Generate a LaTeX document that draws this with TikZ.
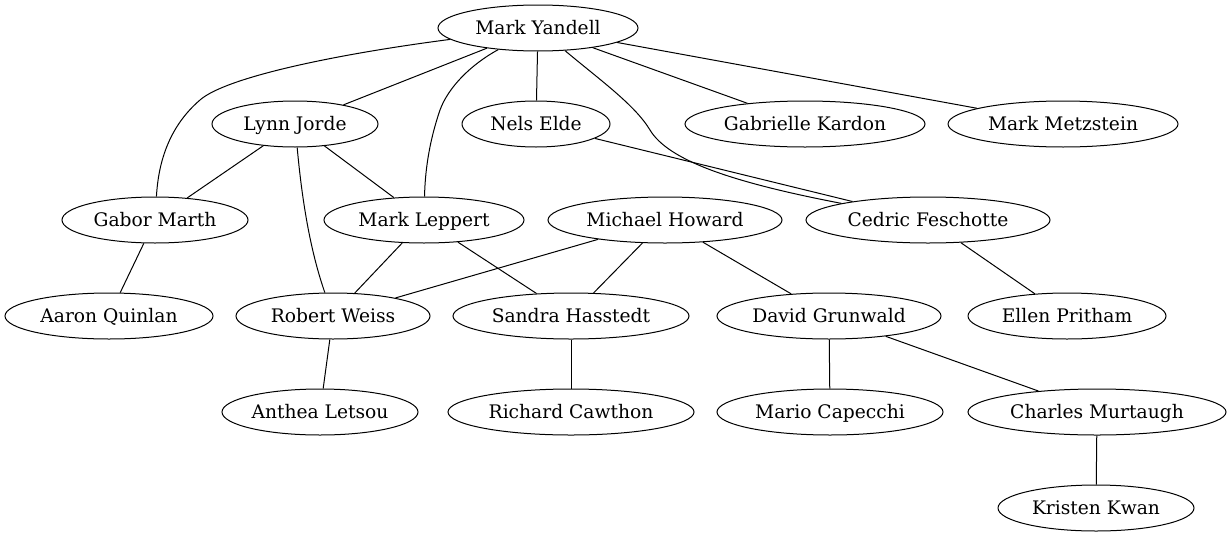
\documentclass[tikz,border=0pt]{standalone}
\usepackage{fontspec}
\setmainfont{DejaVu Serif}
\usetikzlibrary{shapes.geometric}
\begin{document}
\begin{tikzpicture}[x=0.75pt,y=-0.75pt,
  person/.style={draw,ellipse,line width=0.75pt,inner sep=0pt,minimum height=34.5pt,text height=12pt,text depth=2.6pt,font=\fontsize{14pt}{16pt}\selectfont},
  link/.style={line width=0.75pt}]
\useasboundingbox (0,0) rectangle (1230,539);
\node[person,minimum width=150pt] (my) at (538,28) {Mark Yandell};
\node[person,minimum width=124.5pt] (lj) at (295,124) {Lynn Jorde};
\node[person,minimum width=111pt] (ne) at (536,124) {Nels Elde};
\node[person,minimum width=180pt] (gk) at (805,124) {Gabrielle Kardon};
\node[person,minimum width=172.5pt] (mm) at (1063,124) {Mark Metzstein};
\node[person,minimum width=139.5pt] (gm) at (155,220) {Gabor Marth};
\node[person,minimum width=150pt] (ml) at (424,220) {Mark Leppert};
\node[person,minimum width=175.5pt] (mh) at (665,220) {Michael Howard};
\node[person,minimum width=183pt] (cf) at (928,220) {Cedric Feschotte};
\node[person,minimum width=156pt] (aq) at (109,316) {Aaron Quinlan};
\node[person,minimum width=145.5pt] (rw) at (333,316) {Robert Weiss};
\node[person,minimum width=177pt] (sh) at (571,316) {Sandra Hasstedt};
\node[person,minimum width=168pt] (dg) at (829,316) {David Grunwald};
\node[person,minimum width=148.5pt] (ep) at (1067,316) {Ellen Pritham};
\node[person,minimum width=147pt] (al) at (320,412) {Anthea Letsou};
\node[person,minimum width=184.5pt] (rc) at (571,412) {Richard Cawthon};
\node[person,minimum width=169.5pt] (mc) at (830,412) {Mario Capecchi};
\node[person,minimum width=193.5pt] (cm) at (1097,412) {Charles Murtaugh};
\node[person,minimum width=147pt] (kk) at (1096,508) {Kristen Kwan};

\draw[link] (my) .. controls (330,55) and (225,78) .. (200,100) .. controls (165,130) and (158,170) .. (gm);
\draw[link] (my) -- (lj);
\draw[link] (my) .. controls (470,65) and (448,88) .. (440,110) .. controls (428,145) and (425,175) .. (ml);
\draw[link] (my) -- (ne);
\draw[link] (my) .. controls (600,80) and (635,105) .. (650,130) .. controls (668,160) and (730,182) .. (cf);
\draw[link] (my) -- (gk);
\draw[link] (my) -- (mm);
\draw[link] (lj) -- (gm);
\draw[link] (lj) -- (ml);
\draw[link] (lj) .. controls (302,200) and (310,250) .. (rw);
\draw[link] (ne) -- (cf);
\draw[link] (gm) -- (aq);
\draw[link] (ml) -- (rw);
\draw[link] (ml) -- (sh);
\draw[link] (mh) -- (rw);
\draw[link] (mh) -- (sh);
\draw[link] (mh) -- (dg);
\draw[link] (cf) -- (ep);
\draw[link] (rw) -- (al);
\draw[link] (sh) -- (rc);
\draw[link] (dg) -- (mc);
\draw[link] (dg) -- (cm);
\draw[link] (cm) -- (kk);
\end{tikzpicture}
\end{document}
